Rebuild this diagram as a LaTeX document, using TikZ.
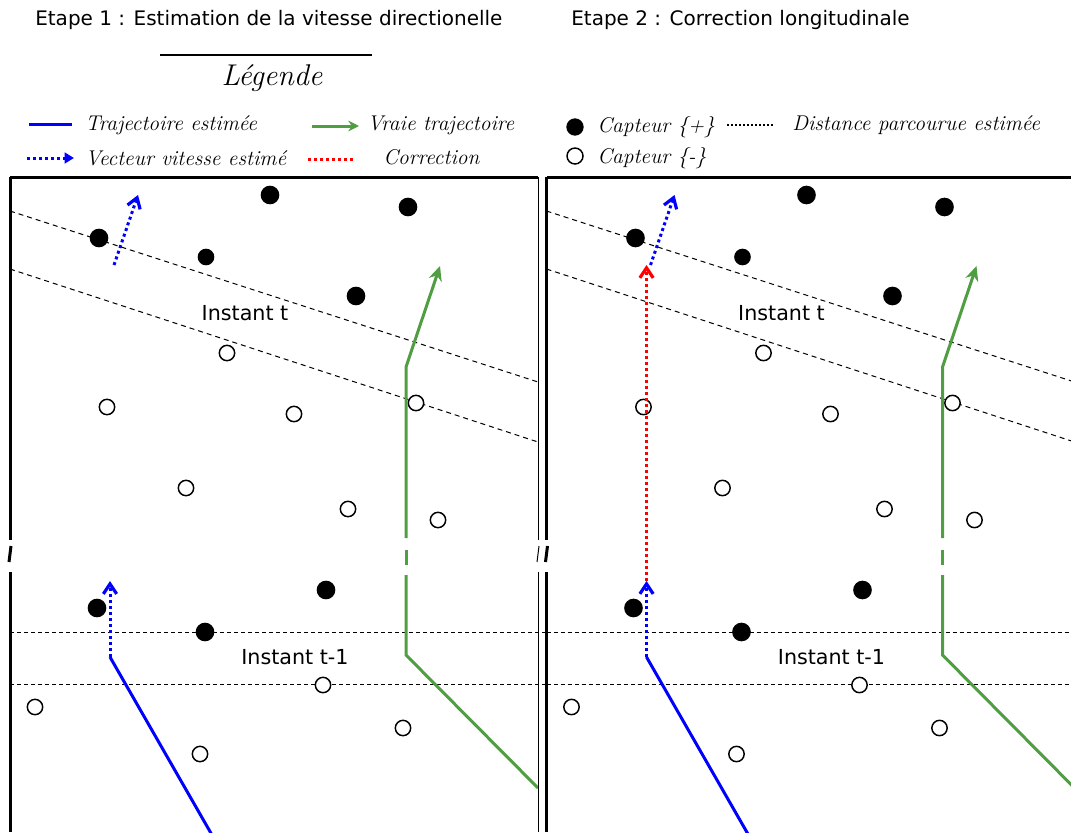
\documentclass[tikz,border=0pt]{standalone}
\usepackage{fontspec}
\newfontfamily\tfont{DejaVu Sans}
\usetikzlibrary{arrows.meta}
\definecolor{tblue}{RGB}{0,0,255}
\definecolor{tgreen}{RGB}{80,158,66}
\definecolor{tred}{RGB}{255,0,0}
\newcommand\panelbody{%
  % borders
  \draw[border] (10,177) -- (538,177);
  \draw[border] (10,177) -- (10,540);
  \draw[border] (11,546) -- (9,562);
  \draw[border] (10,572) -- (10,832);
  % distance lines
  \draw[slant] (10,211) -- (538,382);
  \draw[slant] (10,269) -- (538,442);
  \draw[hdash] (10,632) -- (547,632);
  \draw[hdash] (10,684) -- (547,684);
  % sensors +
  \node[plus] (p1) at (270,195) {};
  \node[plus] (p2) at (408,207) {};
  \node[plus] (p3) at (99,238) {};
  \node[plus,minimum size=12.5pt] (p4) at (206,257) {};
  \node[plus] (p5) at (356,296) {};
  \node[plus] (p6) at (97,608) {};
  \node[plus] (p7) at (326,590) {};
  \node[plus] (p8) at (205,632) {};
  % sensors -
  \node[minus] (m1) at (227,353) {};
  \node[minus] (m2) at (107,407) {};
  \node[minus] (m3) at (294,414) {};
  \node[minus] (m4) at (416,403) {};
  \node[minus] (m5) at (186,488) {};
  \node[minus] (m6) at (348,509) {};
  \node[minus] (m7) at (438,520) {};
  \node[minus] (m8) at (35,707) {};
  \node[minus] (m9) at (323,685) {};
  \node[minus] (m10) at (200,754) {};
  \node[minus] (m11) at (403,728) {};
  % labels
  \node[txt] (it) at (245,313) {Instant t};
  \node[txt] (it1) at (295,657) {Instant t-1};
  % true trajectory
  \coordinate (g0) at (538,788);
  \coordinate (g1) at (406,655);
  \coordinate (gb1) at (406,575);
  \coordinate (gb2) at (406,565);
  \coordinate (gb3) at (406,550);
  \coordinate (gb4) at (406,538);
  \coordinate (g2) at (406,367);
  \coordinate (g3) at (440,266);
  \draw[truetraj] (g0) -- (g1) -- (gb1);
  \draw[truetraj] (gb2) -- (gb3);
  \draw[truetraj,-{Stealth[length=11pt,width=10pt]}] (gb4) -- (g2) -- (g3);
  % estimated trajectory
  \coordinate (b0) at (212,835);
  \coordinate (b1) at (110,657);
  \coordinate (b2) at (110,581);
  \coordinate (u0) at (114,265);
  \coordinate (u1) at (138,195);
  \draw[esttraj] (b0) -- (b1);
  \draw[vecdot] (b1) -- (b2);
  \draw[vecdot] (u0) -- (u1);
}
\begin{document}
\begin{tikzpicture}[x=0.75pt,y=-0.75pt,
  border/.style={line width=2.25pt, black},
  slant/.style={line width=0.75pt, dash pattern=on 3.75pt off 3pt},
  hdash/.style={line width=0.75pt, dash pattern=on 3pt off 2.25pt},
  plus/.style={circle, fill=black, inner sep=0pt, minimum size=14pt},
  minus/.style={circle, draw=black, line width=1.1pt, fill=white, inner sep=0pt, minimum size=11.5pt},
  txt/.style={font=\tfont\fontsize{15.5}{18}\selectfont, inner sep=0pt},
  title/.style={font=\tfont\fontsize{15}{18}\selectfont, anchor=west, inner sep=0pt},
  leg/.style={font=\itshape\fontsize{16}{18}\selectfont, anchor=west, inner sep=0pt},
  truetraj/.style={line width=2.25pt, tgreen, line join=miter},
  esttraj/.style={line width=2.25pt, tblue},
  vecdot/.style={line width=2.25pt, tblue, dash pattern=on 2.25pt off 2.25pt,
     -{Straight Barb[length=7.5pt,width=10pt,line width=2.4pt]}},
  corr/.style={line width=2.25pt, tred, dash pattern=on 2.25pt off 2.25pt,
     -{Straight Barb[length=7.5pt,width=10pt,line width=2.4pt]}}
]
\useasboundingbox (0,0) rectangle (1071,832);
\clip (0,0) rectangle (1071,832);
% titles
\node[title] (t1) at (35,20) {Etape 1 : Estimation de la vitesse directionelle};
\node[title] (t2) at (571,20) {Etape 2 : Correction longitudinale};
% legend
\coordinate (lg0) at (160,55);
\coordinate (lg1) at (372,55);
\draw[line width=1.1pt] (lg0) -- (lg1);
\node[font=\itshape\fontsize{22.5}{24}\selectfont, inner sep=0pt] (leg) at (272,78) {Légende};
\coordinate (la0) at (29,124); \coordinate (la1) at (72,124);
\draw[esttraj] (la0) -- (la1);
\node[leg] (lt1) at (85,125) {Trajectoire estimée};
\coordinate (lb0) at (312,126); \coordinate (lb1) at (359,126);
\draw[truetraj,-{Stealth[length=8pt,width=8pt]}] (lb0) -- (lb1);
\node[leg] (lt2) at (367,125) {Vraie trajectoire};
\coordinate (lc0) at (27,158); \coordinate (lc1) at (74,158);
\draw[line width=2.25pt, tblue, dash pattern=on 2.25pt off 2.25pt,-{Triangle[length=7pt,width=8pt]}] (lc0) -- (lc1);
\node[leg] (lt3) at (85,158) {Vecteur vitesse estimé};
\coordinate (ld0) at (308,159); \coordinate (ld1) at (353,159);
\draw[line width=2.25pt, tred, dash pattern=on 2.25pt off 2.25pt] (ld0) -- (ld1);
\node[leg] (lt4) at (383,157) {Correction};
\node[plus,minimum size=13pt] (lp) at (575,127) {};
\node[leg] (lt5) at (597,127) {Capteur \{+\}};
\coordinate (le0) at (727,125); \coordinate (le1) at (775,125);
\draw[line width=1.5pt, dash pattern=on 1.5pt off 1.5pt] (le0) -- (le1);
\node[leg] (lt6) at (792,125) {Distance parcourue estimée};
\node[minus,minimum size=12pt] (lm) at (575,156) {};
\node[leg] (lt7) at (597,158) {Capteur \{-\}};
% left panel
\begin{scope}[name prefix=A-]
  \panelbody
  \draw[line width=0.75pt] (538,177) -- (538,540);
  \draw[line width=0.75pt] (539,546) -- (537,562);
  \draw[line width=0.75pt] (538,572) -- (538,832);
\end{scope}
% right panel
\begin{scope}[shift={(536.5,0)}, name prefix=B-]
  \panelbody
  \draw[border] (538,177) -- (600,177);
  \draw[corr] (b2) -- (b2 |- u0);
\end{scope}
\end{tikzpicture}
\end{document}
